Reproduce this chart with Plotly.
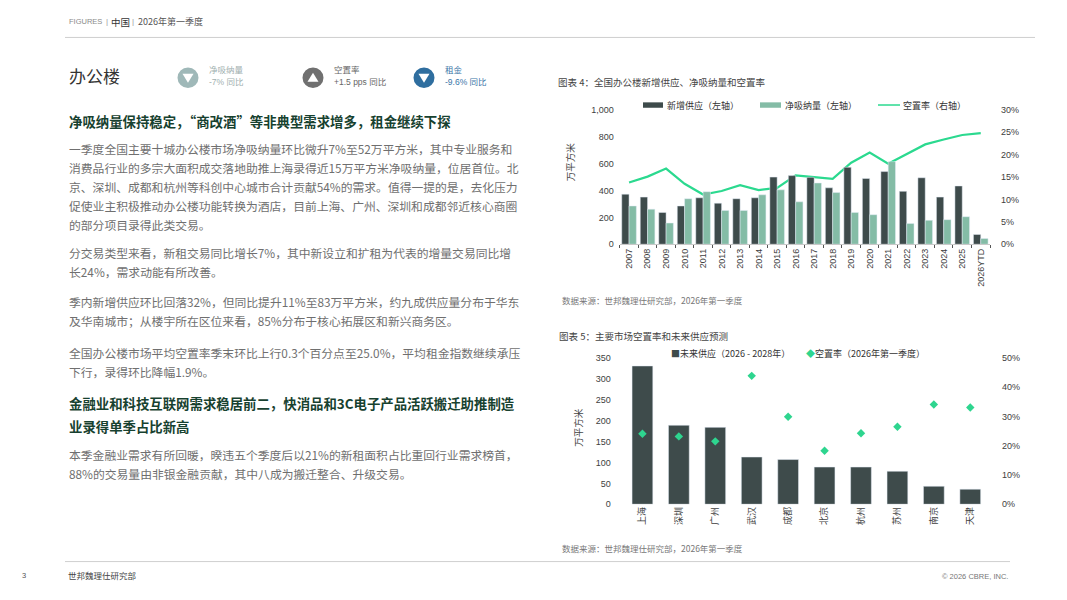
import plotly.graph_objects as go

W, H = 1067, 600

# chart 4: national supply / absorption / vacancy
years = ['2007', '2008', '2009', '2010', '2011', '2012', '2013', '2014', '2015', '2016',
         '2017', '2018', '2019', '2020', '2021', '2022', '2023', '2024', '2025', '2026YTD']
supply = [373, 351, 237, 285, 346, 306, 339, 346, 500, 511,
          498, 420, 573, 490, 541, 394, 495, 351, 434, 73]
absorption = [285, 261, 158, 339, 391, 252, 252, 368, 405, 316,
              456, 385, 237, 220, 615, 154, 178, 183, 205, 43]
vacancy = [13.8, 15.1, 16.9, 13.5, 11.1, 11.9, 13.2, 12.1, 12.6, 15.4,
           15.0, 14.6, 18.2, 20.5, 18.0, 20.1, 22.3, 23.4, 24.4, 24.8]

# chart 5: major markets
cities = ['上海', '深圳', '广州', '武汉', '成都', '北京', '杭州', '苏州', '南京', '天津']
future_supply = [331, 189, 184, 113, 107, 89, 89, 79, 43, 36]
city_vacancy = [24.1, 23.2, 21.5, 43.9, 29.9, 18.3, 24.3, 26.5, 34.1, 33.1]

left_ticks = [0, 200, 400, 600, 800, 1000]
right_ticks = [0, 5, 10, 15, 20, 25, 30]
left_ticks2 = [0, 50, 100, 150, 200, 250, 300, 350]
right_ticks2 = [0, 10, 20, 30, 40, 50]

# page text
body1 = [
    '一季度全国主要十城办公楼市场净吸纳量环比微升7%至52万平方米，其中专业服务和',
    '消费品行业的多宗大面积成交落地助推上海录得近15万平方米净吸纳量，位居首位。北',
    '京、深圳、成都和杭州等科创中心城市合计贡献54%的需求。值得一提的是，去化压力',
    '促使业主积极推动办公楼功能转换为酒店，目前上海、广州、深圳和成都邻近核心商圈',
    '的部分项目录得此类交易。',
]
body2 = ['分交易类型来看，新租交易同比增长7%，其中新设立和扩租为代表的增量交易同比增',
         '长24%，需求动能有所改善。']
body3 = ['季内新增供应环比回落32%，但同比提升11%至83万平方米，约九成供应量分布于华东',
         '及华南城市；从楼宇所在区位来看，85%分布于核心拓展区和新兴商务区。']
body4 = ['全国办公楼市场平均空置率季末环比上行0.3个百分点至25.0%，平均租金指数继续承压',
         '下行，录得环比降幅1.9%。']
body5 = ['本季金融业需求有所回暖，暌违五个季度后以21%的新租面积占比重回行业需求榜首，',
         '88%的交易量由非银金融贡献，其中八成为搬迁整合、升级交易。']
heading1 = '净吸纳量保持稳定，“商改酒”等非典型需求增多，租金继续下探'
heading2 = ['金融业和科技互联网需求稳居前二，快消品和3C电子产品活跃搬迁助推制造',
            '业录得单季占比新高']

CJK = 'Noto Sans CJK SC'
NUM = 'Liberation Sans, Noto Sans CJK SC'
DARK = '#3e4b4b'
LIGHT = '#84bca6'
GREEN = '#2bd98f'


def fx(x):
    return x / W


def fy(y):
    return 1 - y / H


fig = go.Figure()

# chart 4 traces (bars on y2 so they sit above the line)
fig.add_trace(go.Bar(x=years, y=supply, name='新增供应（左轴）', marker_color=DARK,
                     xaxis='x', yaxis='y2', showlegend=False))
fig.add_trace(go.Bar(x=years, y=absorption, name='净吸纳量（左轴）', marker_color=LIGHT,
                     xaxis='x', yaxis='y2', showlegend=False))
fig.add_trace(go.Scatter(x=years, y=vacancy, name='空置率（右轴）', mode='lines',
                         line=dict(color=GREEN, width=2.2), xaxis='x', yaxis='y',
                         showlegend=False))

# chart 5 traces
fig.add_trace(go.Bar(x=cities, y=future_supply, marker_color=DARK, width=0.57,
                     xaxis='x2', yaxis='y3', showlegend=False))
fig.add_trace(go.Scatter(x=cities, y=city_vacancy, mode='markers',
                         marker=dict(symbol='diamond', size=6.5, color='#2ed58f'),
                         xaxis='x2', yaxis='y4', showlegend=False))

tickfont = dict(family=NUM, size=9, color='#404040')
dom_x1 = [fx(619.8), fx(990)]
dom_y1 = [fy(243.3), fy(106.7)]
dom_x2 = [fx(619.7), fx(993)]
dom_y2 = [fy(507.7), fy(359)]

fig.update_layout(
    width=W, height=H, margin=dict(l=0, r=0, t=0, b=0),
    paper_bgcolor='white', plot_bgcolor='rgba(0,0,0,0)',
    barmode='group', bargap=0.21, bargroupgap=0,
    xaxis=dict(domain=dom_x1, type='category', tickangle=-90, tickfont=tickfont,
               showline=True, linecolor='#c8c8c8', linewidth=1, ticks='outside',
               tickson='boundaries', ticklen=3, tickcolor='#555', showgrid=False,
               anchor='y'),
    yaxis=dict(domain=dom_y1, range=[0, 30], side='right', tickvals=right_ticks,
               ticktext=[f'{v}%' for v in right_ticks], tickfont=tickfont,
               showgrid=False, zeroline=False, anchor='x', ticklabelstandoff=10),
    yaxis2=dict(range=[0, 1000], overlaying='y', side='left', tickvals=left_ticks,
                ticktext=[f'{v:,}' for v in left_ticks], tickfont=tickfont,
                showgrid=False, zeroline=False, anchor='x', ticklabelstandoff=5),
    xaxis2=dict(domain=dom_x2, type='category', tickangle=-90,
                tickfont=dict(family=CJK, size=9, color='#404040'),
                showline=False, ticks='', showgrid=False, anchor='y3'),
    yaxis3=dict(domain=dom_y2, range=[0, 350], side='left', tickvals=left_ticks2,
                tickfont=tickfont, showgrid=False, zeroline=False, anchor='x2',
                ticklabelstandoff=8),
    yaxis4=dict(range=[0, 50], overlaying='y3', side='right', tickvals=right_ticks2,
                ticktext=[f'{v}%' for v in right_ticks2], tickfont=tickfont,
                showgrid=False, zeroline=False, anchor='x2', ticklabelstandoff=8),
)

annotations = []
shapes = []


def text(x, y, s, size, color, family=CJK, anchor='left', angle=0):
    annotations.append(dict(x=fx(x), y=fy(y), xref='paper', yref='paper', text=s,
                            showarrow=False, xanchor=anchor, yanchor='middle',
                            textangle=angle,
                            font=dict(family=family, size=size, color=color)))


def hline(x0, x1, y, color, width=1):
    shapes.append(dict(type='line', xref='paper', yref='paper', x0=fx(x0), x1=fx(x1),
                       y0=fy(y), y1=fy(y), line=dict(color=color, width=width)))


# header and footer
text(67, 17, 'FIGURES', 7.5, '#8a8a8a', family=NUM)
text(104, 17, '|', 8, '#9a9a9a', family=NUM)
text(109, 17, '中国', 9.5, '#333333')
text(130, 17, '|', 8, '#9a9a9a', family=NUM)
text(136, 17, '2026年第一季度', 9, '#555555')
hline(65, 1035, 33, '#cfcfcf')
hline(65, 1010, 566, '#cfcfcf')
text(20, 580, '3', 7.5, '#555555', family=NUM)
text(66, 580, '世邦魏理仕研究部', 8.5, '#444444')
text(1010, 581, '© 2026 CBRE, INC.', 7.5, '#777777', family=NUM, anchor='right')

# title with KPI icons
text(67, 72, '办公楼', 17, '#333333')
icons = [(188, '#9fb8b8', 'down', '净吸纳量', '-7% 同比', '#9fb0b0'),
         (313, '#707070', 'up', '空置率', '+1.5 pps 同比', '#666666'),
         (424, '#2f6e9f', 'down', '租金', '-9.6% 同比', '#3a76a8')]
for cx, col, d, lab, val, tcol in icons:
    r = 10.5
    cy = 74
    shapes.append(dict(type='circle', xref='paper', yref='paper', x0=fx(cx - r),
                       x1=fx(cx + r), y0=fy(cy + r), y1=fy(cy - r),
                       fillcolor=col, line=dict(width=0)))
    if d == 'down':
        pts = [(cx - 5.5, cy - 4), (cx + 5.5, cy - 4), (cx, cy + 5)]
    else:
        pts = [(cx - 5.5, cy + 4), (cx + 5.5, cy + 4), (cx, cy - 5)]
    path = 'M ' + ' L '.join(f'{fx(a):.5f},{fy(b):.5f}' for a, b in pts) + ' Z'
    shapes.append(dict(type='path', xref='paper', yref='paper', path=path,
                       fillcolor='white', line=dict(width=0)))
    text(cx + 19, 65, lab, 8.5, tcol)
    text(cx + 19, 78, val, 8.5, tcol, family=NUM)

# left column text
HEAD = '#17412f'
BODY = '#6f6f6f'
text(67, 118, f'<b>{heading1}</b>', 13.4, HEAD)
blocks = [(146, body1), (252, body2), (302, body3), (353, body4), (457, body5)]
for y0, lines in blocks:
    for i, line in enumerate(lines):
        text(67, y0 + i * 19.3, line, 11.8, BODY)
text(67, 405, f'<b>{heading2[0]}</b>', 13.4, HEAD)
text(67, 428, f'<b>{heading2[1]}</b>', 13.4, HEAD)

# chart 4 labels and legend
text(556, 78, '图表 4：全国办公楼新增供应、净吸纳量和空置率', 9.5, '#444444')
text(570, 160, '万平方米', 9.5, '#444444', angle=-90, anchor='center')
shapes.append(dict(type='rect', xref='paper', yref='paper', x0=fx(643), x1=fx(663),
                   y0=fy(104.5), y1=fy(99), fillcolor=DARK, line=dict(width=0)))
text(665, 101.7, '新增供应（左轴）', 9, '#333333')
shapes.append(dict(type='rect', xref='paper', yref='paper', x0=fx(760), x1=fx(781),
                   y0=fy(104.5), y1=fy(99), fillcolor=LIGHT, line=dict(width=0)))
text(783, 101.7, '净吸纳量（左轴）', 9, '#333333')
hline(878, 900, 101.7, GREEN, 1.5)
text(901, 101.7, '空置率（右轴）', 9, '#333333')
text(560, 300, '数据来源：世邦魏理仕研究部，2026年第一季度', 8.5, '#777777')

# chart 5 labels and legend
text(557, 337, '图表 5：主要市场空置率和未来供应预测', 9.5, '#444444')
text(578, 430, '万平方米', 9.5, '#444444', angle=-90, anchor='center')
text(669, 354, '<span style="color:#3e4b4b">■</span>未来供应（2026 - 2028年）', 9, '#333333')
text(804, 354, '<span style="color:#2ed58f">◆</span>空置率（2026年第一季度）', 9, '#333333')
text(560, 552, '数据来源：世邦魏理仕研究部，2026年第一季度', 8.5, '#777777')

fig.update_layout(annotations=annotations, shapes=shapes)
# drop the default page margin so the 1067x600 figure fills the window exactly
fig.write_html('out.html', config={'displayModeBar': False},
               post_script="document.body.style.margin='0';")
